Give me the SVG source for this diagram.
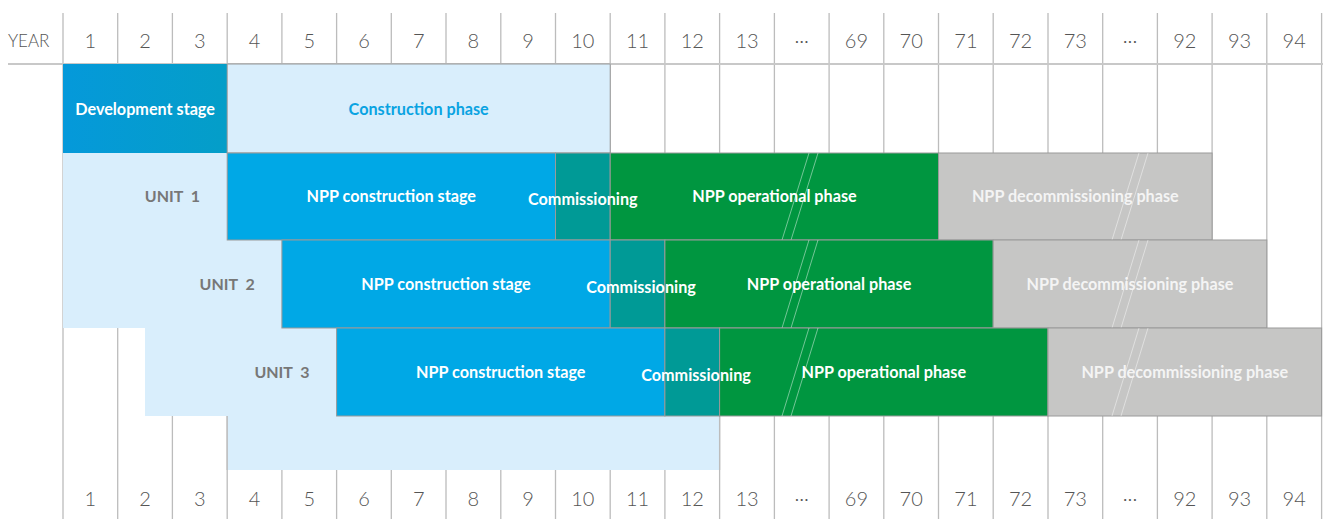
<svg xmlns="http://www.w3.org/2000/svg" width="1323" height="519" viewBox="0 0 1323 519">
<style>
.grid line{stroke:#bcbcbc;stroke-width:1.3}
.num{font-family:Lato,"Liberation Sans",sans-serif;font-weight:300;font-size:20px;fill:#555;text-anchor:middle}
.lbl{font-family:Lato,"Liberation Sans",sans-serif;font-weight:700;font-size:16.2px;fill:#fff;text-anchor:middle}
.unit{font-family:Lato,"Liberation Sans",sans-serif;font-weight:700;font-size:16px;fill:#777;text-anchor:middle;word-spacing:4px}
.lb{fill:#d9eefc}
.bar{stroke:#9a9a9a;stroke-width:1}
.cons{fill:#00a8e6}
.comm{fill:#009a96}
.oper{fill:#009640}
.deco{fill:#c6c6c5}
.brk{stroke:#fff;stroke-opacity:0.45;stroke-width:1}
</style>
<defs>
<linearGradient id="dev" x1="0" y1="0" x2="1" y2="0">
<stop offset="0" stop-color="#0599da"/>
<stop offset="1" stop-color="#049ec8"/>
</linearGradient>
</defs>
<rect width="1323" height="519" fill="#fff"/>
<g id="grid" class="grid">
<line x1="63" y1="13" x2="63" y2="519"/>
<line x1="117.7" y1="13" x2="117.7" y2="519"/>
<line x1="172.4" y1="13" x2="172.4" y2="519"/>
<line x1="227.2" y1="13" x2="227.2" y2="519"/>
<line x1="281.9" y1="13" x2="281.9" y2="519"/>
<line x1="336.6" y1="13" x2="336.6" y2="519"/>
<line x1="391.3" y1="13" x2="391.3" y2="519"/>
<line x1="446" y1="13" x2="446" y2="519"/>
<line x1="500.8" y1="13" x2="500.8" y2="519"/>
<line x1="555.5" y1="13" x2="555.5" y2="519"/>
<line x1="610.2" y1="13" x2="610.2" y2="519"/>
<line x1="664.9" y1="13" x2="664.9" y2="519"/>
<line x1="719.6" y1="13" x2="719.6" y2="519"/>
<line x1="774.4" y1="13" x2="774.4" y2="519"/>
<line x1="829.1" y1="13" x2="829.1" y2="519"/>
<line x1="883.8" y1="13" x2="883.8" y2="519"/>
<line x1="938.5" y1="13" x2="938.5" y2="519"/>
<line x1="993.2" y1="13" x2="993.2" y2="519"/>
<line x1="1048" y1="13" x2="1048" y2="519"/>
<line x1="1102.7" y1="13" x2="1102.7" y2="519"/>
<line x1="1157.4" y1="13" x2="1157.4" y2="519"/>
<line x1="1212.1" y1="13" x2="1212.1" y2="519"/>
<line x1="1266.8" y1="13" x2="1266.8" y2="519"/>
<line x1="1321.6" y1="13" x2="1321.6" y2="519"/>
<line x1="8" y1="64" x2="1323" y2="64" style="stroke:#c8c8c8;stroke-width:2"/>
</g>
<g id="header">
<text x="8" y="47" style="font-family:Lato,'Liberation Sans',sans-serif;font-weight:300;font-size:17px;fill:#555">YEAR</text>
<text class="num" x="90.4" y="48">1</text>
<text class="num" x="145.1" y="48">2</text>
<text class="num" x="199.8" y="48">3</text>
<text class="num" x="254.5" y="48">4</text>
<text class="num" x="309.2" y="48">5</text>
<text class="num" x="364" y="48">6</text>
<text class="num" x="418.7" y="48">7</text>
<text class="num" x="473.4" y="48">8</text>
<text class="num" x="528.1" y="48">9</text>
<text class="num" x="582.8" y="48">10</text>
<text class="num" x="637.6" y="48">11</text>
<text class="num" x="692.3" y="48">12</text>
<text class="num" x="747" y="48">13</text>
<text class="num" x="801.7" y="48">···</text>
<text class="num" x="856.4" y="48">69</text>
<text class="num" x="911.2" y="48">70</text>
<text class="num" x="965.9" y="48">71</text>
<text class="num" x="1020.6" y="48">72</text>
<text class="num" x="1075.3" y="48">73</text>
<text class="num" x="1130" y="48">···</text>
<text class="num" x="1184.8" y="48">92</text>
<text class="num" x="1239.5" y="48">93</text>
<text class="num" x="1294.2" y="48">94</text>
</g>
<g id="footer">
<text class="num" x="90.4" y="506">1</text>
<text class="num" x="145.1" y="506">2</text>
<text class="num" x="199.8" y="506">3</text>
<text class="num" x="254.5" y="506">4</text>
<text class="num" x="309.2" y="506">5</text>
<text class="num" x="364" y="506">6</text>
<text class="num" x="418.7" y="506">7</text>
<text class="num" x="473.4" y="506">8</text>
<text class="num" x="528.1" y="506">9</text>
<text class="num" x="582.8" y="506">10</text>
<text class="num" x="637.6" y="506">11</text>
<text class="num" x="692.3" y="506">12</text>
<text class="num" x="747" y="506">13</text>
<text class="num" x="801.7" y="506">···</text>
<text class="num" x="856.4" y="506">69</text>
<text class="num" x="911.2" y="506">70</text>
<text class="num" x="965.9" y="506">71</text>
<text class="num" x="1020.6" y="506">72</text>
<text class="num" x="1075.3" y="506">73</text>
<text class="num" x="1130" y="506">···</text>
<text class="num" x="1184.8" y="506">92</text>
<text class="num" x="1239.5" y="506">93</text>
<text class="num" x="1294.2" y="506">94</text>
</g>
<g id="units-area">
<polygon class="lb" points="63,153 227.2,153 227.2,240 281.9,240 281.9,328 336.6,328 336.6,416 719.6,416 719.6,470 227.2,470 227.2,416 145,416 145,328 63,328"/>
<line x1="227.2" y1="416" x2="227.2" y2="470" stroke="#bcbcbc" stroke-width="1.3"/>
<line x1="719.6" y1="416" x2="719.6" y2="470" stroke="#bcbcbc" stroke-width="1.3"/>
</g>
<g id="development-stage">
<rect x="63" y="64" width="164.2" height="89" fill="url(#dev)"/>
<text class="lbl" x="145.1" y="115">Development stage</text>
</g>
<g id="construction-phase">
<rect x="227.2" y="64" width="383" height="89" class="lb" stroke="#9a9a9a" stroke-width="1"/>
<text class="lbl" x="418.7" y="115" style="fill:#0aa3e2">Construction phase</text>
</g>
<g id="unit1">
<text class="unit" x="172.4" y="202">UNIT 1</text>
<rect class="bar cons" x="227.2" y="153" width="328.3" height="87"/>
<rect class="bar comm" x="555.5" y="153" width="54.7" height="87"/>
<rect class="bar oper" x="610.2" y="153" width="328.3" height="87"/>
<rect class="bar deco" x="938.5" y="153" width="273.6" height="87"/>
<line class="brk" x1="782" y1="240" x2="809" y2="153"/>
<line class="brk" x1="791" y1="240" x2="818" y2="153"/>
<line class="brk" x1="1112" y1="240" x2="1139" y2="153"/>
<line class="brk" x1="1121" y1="240" x2="1148" y2="153"/>
<text class="lbl" x="391.3" y="202">NPP construction stage</text>
<text class="lbl" x="582.8" y="205">Commissioning</text>
<text class="lbl" x="774.4" y="202">NPP operational phase</text>
<text class="lbl" x="1075.3" y="202" style="fill:#f4f4f4">NPP decommissioning phase</text>
</g>
<g id="unit2">
<text class="unit" x="227.2" y="290">UNIT 2</text>
<rect class="bar cons" x="281.9" y="240" width="328.3" height="88"/>
<rect class="bar comm" x="610.2" y="240" width="54.7" height="88"/>
<rect class="bar oper" x="664.9" y="240" width="328.3" height="88"/>
<rect class="bar deco" x="993.2" y="240" width="273.6" height="88"/>
<line class="brk" x1="782" y1="328" x2="809" y2="240"/>
<line class="brk" x1="791" y1="328" x2="818" y2="240"/>
<line class="brk" x1="1112" y1="328" x2="1139" y2="240"/>
<line class="brk" x1="1121" y1="328" x2="1148" y2="240"/>
<text class="lbl" x="446" y="290">NPP construction stage</text>
<text class="lbl" x="641" y="293">Commissioning</text>
<text class="lbl" x="829.1" y="290">NPP operational phase</text>
<text class="lbl" x="1130" y="290" style="fill:#f4f4f4">NPP decommissioning phase</text>
</g>
<g id="unit3">
<text class="unit" x="282" y="378">UNIT 3</text>
<rect class="bar cons" x="336.6" y="328" width="328.3" height="88"/>
<rect class="bar comm" x="664.9" y="328" width="54.7" height="88"/>
<rect class="bar oper" x="719.6" y="328" width="328.3" height="88"/>
<rect class="bar deco" x="1048" y="328" width="273.6" height="88"/>
<line class="brk" x1="782" y1="416" x2="809" y2="328"/>
<line class="brk" x1="791" y1="416" x2="818" y2="328"/>
<line class="brk" x1="1112" y1="416" x2="1139" y2="328"/>
<line class="brk" x1="1121" y1="416" x2="1148" y2="328"/>
<text class="lbl" x="500.8" y="378">NPP construction stage</text>
<text class="lbl" x="696" y="381">Commissioning</text>
<text class="lbl" x="883.8" y="378">NPP operational phase</text>
<text class="lbl" x="1184.8" y="378" style="fill:#f4f4f4">NPP decommissioning phase</text>
</g>
</svg>
